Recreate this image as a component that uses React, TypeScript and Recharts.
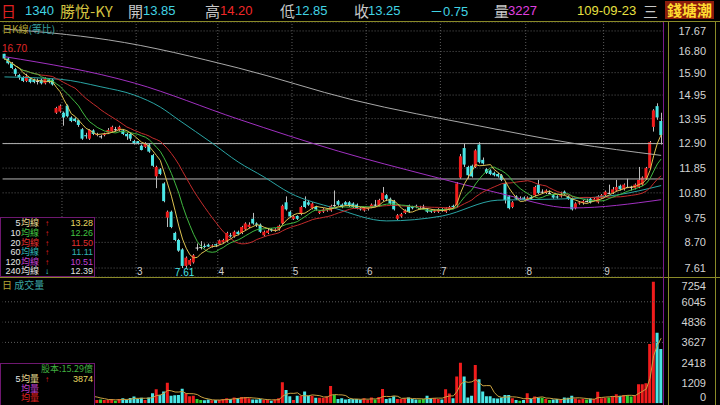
import React from "react";
import {
  Bar,
  Cell,
  ComposedChart,
  CartesianGrid,
  Line,
  ReferenceDot,
  ReferenceLine,
  XAxis,
  YAxis,
} from "recharts";

// open, high, low, close
const candles: [number, number, number, number][] = [
  [16.7, 16.7, 16.45, 16.5], [16.5, 16.55, 16.25, 16.3], [16.3, 16.35, 16.05, 16.1], [16.05, 16.1, 15.75, 15.85],
  [15.8, 15.85, 15.6, 15.7], [15.7, 15.75, 15.5, 15.55], [15.55, 15.85, 15.5, 15.75], [15.65, 15.7, 15.45, 15.5],
  [15.6, 15.65, 15.45, 15.5], [15.55, 15.65, 15.4, 15.55], [15.6, 15.65, 15.4, 15.45], [15.45, 15.7, 15.4, 15.65],
  [15.6, 15.65, 15.45, 15.5], [15.6, 15.65, 15.35, 15.4], [14.2, 14.45, 14.15, 14.4], [14.25, 14.55, 14.2, 14.5],
  [14.2, 14.25, 13.65, 14.0], [14.5, 14.55, 14.0, 14.05], [14.0, 14.05, 13.8, 13.85], [13.95, 14.0, 13.8, 13.85],
  [13.88, 13.9, 13.6, 13.68], [13.5, 13.55, 13.05, 13.1], [13.25, 13.35, 13.1, 13.2], [13.1, 13.5, 13.05, 13.47],
  [13.45, 13.5, 13.25, 13.3], [13.25, 13.35, 13.2, 13.3], [13.2, 13.25, 13.1, 13.2], [13.25, 13.35, 13.2, 13.3],
  [13.35, 13.55, 13.3, 13.47], [13.4, 13.65, 13.35, 13.6], [13.5, 13.6, 13.4, 13.5], [13.45, 13.65, 13.4, 13.6],
  [13.45, 13.5, 13.25, 13.3], [13.3, 13.35, 13.05, 13.2], [13.3, 13.35, 13.0, 13.1], [13.0, 13.05, 12.85, 12.9],
  [13.0, 13.0, 12.85, 12.9], [12.8, 12.85, 12.6, 12.62], [12.75, 12.95, 12.7, 12.9], [12.85, 12.9, 12.5, 12.55],
  [12.4, 12.45, 11.9, 11.95], [11.5, 11.95, 11.0, 11.9], [11.8, 11.85, 11.55, 11.6], [11.2, 11.25, 10.4, 10.45],
  [9.75, 10.05, 9.35, 10.0], [10.0, 10.05, 9.3, 9.35], [9.1, 9.15, 8.75, 8.8], [8.8, 8.85, 8.3, 8.35],
  [8.4, 8.45, 7.61, 7.7], [7.7, 8.1, 7.62, 8.05], [7.75, 8.0, 7.7, 7.95], [7.85, 8.2, 7.8, 8.15],
  [8.48, 8.65, 8.35, 8.48], [8.5, 8.75, 8.4, 8.5], [8.55, 8.65, 8.45, 8.52], [8.6, 8.65, 8.5, 8.52],
  [8.55, 8.62, 8.48, 8.57], [8.62, 8.65, 8.5, 8.57], [8.63, 8.82, 8.6, 8.78], [8.7, 8.85, 8.65, 8.8],
  [8.75, 9.15, 8.7, 9.1], [9.0, 9.1, 8.9, 8.98], [8.95, 9.2, 8.9, 9.15], [9.15, 9.2, 9.0, 9.05],
  [9.1, 9.4, 9.05, 9.35], [9.25, 9.55, 9.2, 9.5], [9.35, 9.55, 9.3, 9.45], [9.7, 9.95, 9.45, 9.5],
  [9.5, 9.55, 9.35, 9.45], [9.45, 9.5, 9.1, 9.15], [9.0, 9.2, 8.95, 9.15], [9.1, 9.3, 9.05, 9.2],
  [9.25, 9.3, 9.15, 9.2], [9.2, 9.3, 9.15, 9.25], [9.25, 9.45, 9.2, 9.4], [9.5, 10.3, 9.45, 10.25],
  [10.4, 10.65, 10.05, 10.1], [10.0, 10.05, 9.75, 9.8], [9.7, 9.85, 9.65, 9.8], [9.82, 9.85, 9.65, 9.7],
  [9.9, 10.25, 9.85, 10.2], [10.45, 10.65, 10.15, 10.2], [10.4, 10.5, 10.25, 10.3], [10.15, 10.4, 10.1, 10.35],
  [10.2, 10.25, 10.05, 10.1], [9.95, 10.05, 9.9, 10.02], [10.0, 10.15, 9.95, 10.1], [10.05, 10.15, 10.0, 10.12],
  [10.05, 10.3, 10.0, 10.25], [10.28, 10.9, 10.2, 10.28], [10.45, 10.5, 10.25, 10.3], [10.3, 10.35, 10.15, 10.2],
  [10.4, 10.45, 10.25, 10.3], [10.4, 10.45, 10.2, 10.25], [10.35, 10.4, 10.15, 10.2], [10.3, 10.35, 10.1, 10.15],
  [10.15, 10.2, 10.05, 10.1], [10.05, 10.2, 10.0, 10.15], [10.12, 10.2, 10.05, 10.15], [10.2, 10.35, 10.15, 10.3],
  [10.3, 10.5, 10.2, 10.3], [10.27, 10.55, 10.2, 10.5], [10.5, 11.05, 10.45, 10.8], [10.7, 10.75, 10.45, 10.55],
  [10.55, 10.6, 10.3, 10.35], [10.45, 10.5, 10.05, 10.1], [9.7, 9.9, 9.65, 9.85], [9.8, 9.95, 9.75, 9.9],
  [9.95, 10.1, 9.9, 10.05], [10.27, 10.3, 9.95, 10.0], [10.2, 10.25, 10.1, 10.15], [10.25, 10.3, 10.15, 10.2],
  [10.15, 10.25, 10.1, 10.15], [10.18, 10.3, 10.1, 10.18], [10.1, 10.15, 9.95, 10.0], [10.05, 10.1, 9.95, 10.0],
  [10.0, 10.1, 9.95, 10.05], [10.0, 10.15, 9.95, 10.1], [10.1, 10.15, 10.0, 10.05], [10.0, 10.2, 9.95, 10.15],
  [10.1, 10.25, 10.05, 10.2], [10.25, 10.3, 10.15, 10.2], [10.27, 11.25, 10.2, 11.2], [11.45, 12.45, 11.4, 12.35],
  [12.7, 12.9, 11.9, 12.0], [11.9, 11.95, 11.4, 11.55], [11.95, 12.0, 11.45, 11.5], [11.9, 12.65, 11.85, 12.6],
  [12.85, 12.95, 12.05, 12.1], [12.2, 12.3, 12.0, 12.05], [11.8, 11.85, 11.6, 11.65], [11.75, 11.8, 11.55, 11.6],
  [11.65, 11.7, 11.5, 11.55], [11.6, 11.65, 11.45, 11.5], [11.55, 11.6, 11.3, 11.35], [11.2, 11.25, 10.35, 10.5],
  [10.65, 10.7, 10.1, 10.15], [10.2, 10.45, 10.15, 10.4], [10.65, 10.7, 10.5, 10.55], [10.58, 10.65, 10.5, 10.58],
  [10.6, 10.65, 10.5, 10.55], [10.55, 10.65, 10.5, 10.6], [10.62, 10.7, 10.5, 10.55], [10.7, 11.1, 10.65, 11.05],
  [11.15, 11.35, 10.75, 10.8], [10.85, 10.95, 10.75, 10.85], [10.8, 10.95, 10.75, 10.9], [10.8, 10.9, 10.75, 10.8],
  [10.7, 10.75, 10.55, 10.6], [10.65, 10.7, 10.55, 10.6], [10.65, 10.85, 10.6, 10.7], [10.85, 10.9, 10.7, 10.75],
  [10.65, 10.7, 10.5, 10.55], [10.55, 10.6, 10.05, 10.1], [10.15, 10.4, 10.1, 10.35], [10.35, 10.45, 10.3, 10.4],
  [10.38, 10.5, 10.3, 10.45], [10.45, 10.55, 10.4, 10.45], [10.55, 10.6, 10.35, 10.4], [10.5, 10.6, 10.45, 10.55],
  [10.4, 10.7, 10.35, 10.65], [10.6, 10.75, 10.55, 10.7], [10.7, 10.9, 10.65, 10.85], [10.8, 11.15, 10.75, 10.8],
  [10.8, 11.05, 10.75, 10.95], [10.9, 11.35, 10.85, 11.05], [11.1, 11.15, 10.9, 10.95], [10.95, 11.2, 10.9, 11.15],
  [11.05, 11.4, 11.0, 11.05], [11.05, 11.1, 10.9, 11.05], [11.0, 11.2, 10.95, 11.15], [11.05, 11.9, 11.0, 11.35],
  [11.15, 11.5, 11.1, 11.45], [11.4, 11.9, 11.35, 11.85], [11.85, 13.0, 11.8, 12.95], [13.6, 14.35, 13.4, 14.3],
  [14.48, 14.6, 13.9, 14.0], [13.85, 14.2, 12.85, 13.25],
];

const volumes = [
  420, 380, 350, 330, 300, 280, 260, 240, 230, 210, 220, 260, 240, 300, 880, 760, 650, 600, 420, 380,
  400, 520, 380, 450, 300, 200, 230, 200, 200, 250, 150, 250, 300, 200, 320, 400, 250, 330, 200, 350,
  600, 830, 500, 700, 1230, 450, 480, 500, 870, 600, 420, 450, 250, 200, 180, 220, 180, 200, 200, 250,
  300, 250, 350, 300, 380, 380, 300, 230, 220, 250, 200, 200, 150, 230, 300, 1250, 790, 420, 200, 450,
  450, 700, 450, 450, 330, 330, 330, 420, 1030, 500, 250, 300, 220, 250, 250, 250, 220, 300, 200, 350,
  220, 380, 850, 250, 300, 420, 250, 250, 300, 350, 250, 230, 220, 250, 450, 300, 300, 250, 230, 830,
  590, 300, 1590, 2420, 1590, 340, 450, 2280, 1430, 700, 420, 420, 300, 280, 350, 500, 500, 300, 200, 150,
  200, 600, 250, 400, 330, 330, 250, 200, 220, 250, 200, 350, 330, 450, 280, 220, 250, 220, 280, 250,
  690, 300, 330, 350, 400, 540, 450, 500, 480, 400, 450, 1130, 1130, 1190, 3530, 7254, 4200, 3227,
];

// long averages, read at a few days (day index, price)
const ma60Pts: [number, number][] = [
  [0, 15.72], [15, 15.62], [26, 15.3], [35, 14.95], [42, 14.44], [47, 13.89], [56, 12.91], [63, 12.11],
  [70, 11.47], [77, 10.79], [89, 10.15], [103, 9.61], [118, 9.82], [133, 10.49], [150, 10.54], [165, 10.71], [177, 11.11],
];
const ma120Pts: [number, number][] = [
  [0, 16.58], [35, 15.46], [63, 13.93], [90, 12.57], [115, 11.51], [133, 10.8], [153, 10.16], [177, 10.51],
];
const ma240Pts: [number, number][] = [
  [0, 17.75], [13, 17.58], [28, 17.29], [63, 16.1], [94, 14.74], [128, 13.64], [153, 12.91], [177, 12.39],
];

const priceTicks = [7.61, 8.7, 9.75, 10.8, 11.85, 12.9, 13.95, 14.95, 15.9, 16.8, 17.67];
const volTicks = [0, 1209, 2418, 3627, 4836, 6045, 7254];
const volGrid = [3627, 4836, 6045];
const monthLines: [number, string][] = [
  [15.5, "2"], [35.5, "3"], [57.5, "4"], [77.5, "5"], [97.5, "6"], [117.5, "7"], [140.5, "8"], [161.5, "9"],
];
const levels = [12.89, 11.39];

const RED = "#f01c1c";
const CYAN = "#4ae6e6";
const FLAT = "#e0e0e0";
const GRID = "#5c5c5c";
const OLIVE = "#8a8a28";
const CJK = "'Noto Sans CJK TC', 'Noto Sans CJK SC', sans-serif";
const NUM = "'Liberation Sans', Arial, sans-serif";

const avg = (arr: number[], i: number, n: number) => {
  const s = Math.max(0, i - n + 1);
  let t = 0;
  for (let k = s; k <= i; k++) t += arr[k];
  return t / (i - s + 1);
};

const closes = candles.map((d) => d[3]);
const lookup = (pts: [number, number][], i: number) => {
  const hit = pts.find((p) => p[0] === i);
  return hit ? hit[1] : null;
};

const rows = candles.map(([o, h, l, c], i) => ({
  i,
  o,
  h,
  l,
  c,
  range: [l, h],
  ma5: avg(closes, i, 5),
  ma10: avg(closes, i, 10),
  ma20: avg(closes, i, 20),
  ma60: lookup(ma60Pts, i),
  ma120: lookup(ma120Pts, i),
  ma240: lookup(ma240Pts, i),
  v: volumes[i],
  vma5: avg(volumes, i, 5),
}));

const colorOf = (o: number, c: number) => (c > o ? RED : c < o ? CYAN : FLAT);

const Candle = (props: any) => {
  const { x, y, width, height, payload } = props;
  const { o, h, l, c } = payload;
  const k = h > l ? height / (h - l) : 0;
  const py = (v: number) => y + (h - v) * k;
  const cx = Math.round(x + width / 2) + 0.5;
  const top = py(Math.max(o, c));
  const bot = py(Math.min(o, c));
  return (
    <g>
      <line x1={cx} x2={cx} y1={y} y2={y + height} stroke="#bdbdbd" strokeWidth={1} />
      <rect x={x} y={top} width={width} height={Math.max(1, bot - top)} fill={colorOf(o, c)} />
    </g>
  );
};

const PriceTick = (props: any) => {
  const { y, payload } = props;
  return (
    <text x={706} y={y + 4} textAnchor="end" fill="#d4d4d4" fontSize={11} fontFamily={NUM}>
      {payload.value.toFixed(2)}
    </text>
  );
};

const VolTick = (props: any) => {
  const { y, payload } = props;
  const shift = payload.value === 7254 ? 8 : payload.value === 0 ? -2 : 4;
  return (
    <text x={706} y={y + shift} textAnchor="end" fill="#d4d4d4" fontSize={11} fontFamily={NUM}>
      {payload.value}
    </text>
  );
};

const MonthLabel = (props: any) => {
  const { viewBox, text } = props;
  return (
    <text x={viewBox.x + 3.5} y={viewBox.y + viewBox.height - 2} textAnchor="middle" fill="#d0d0d0" fontSize={10} fontFamily={NUM}>
      {text}
    </text>
  );
};

const HighLabel = (props: any) => (
  <text x={props.viewBox.x - 1.5} y={props.viewBox.y - 1} fill="#e02828" fontSize={10} fontFamily={NUM}>
    16.70
  </text>
);

const LowLabel = (props: any) => (
  <text x={props.viewBox.x + 3} y={props.viewBox.y + 9} textAnchor="middle" fill={CYAN} fontSize={10} fontFamily={NUM}>
    7.61
  </text>
);

const T = ({ x, y, c, s = 13, f = NUM, lh = 16, children }: any) => (
  <span
    style={{
      position: "absolute",
      left: x,
      top: y,
      color: c,
      fontSize: s,
      fontFamily: f,
      lineHeight: `${lh}px`,
      whiteSpace: "nowrap",
    }}
  >
    {children}
  </span>
);

const maRows = [
  { n: "5", col: "#e8dc90", val: "13.28", vcol: "#e8d860", up: true },
  { n: "10", col: "#40c440", val: "12.26", vcol: "#40c440", up: true },
  { n: "20", col: "#e03030", val: "11.50", vcol: "#e03030", up: true },
  { n: "60", col: "#30b4b4", val: "11.11", vcol: "#30b4b4", up: true },
  { n: "120", col: "#c040d0", val: "10.51", vcol: "#c040d0", up: true },
  { n: "240", col: "#e0e0e0", val: "12.39", vcol: "#e0e0e0", up: false },
];

const volRows = [
  { n: "5", col: "#e8dc90", val: "3874" },
  { n: "", col: "#c040d0", val: "" },
  { n: "", col: "#e02020", val: "" },
];

const base = (k: number) => 9.3 + k * 9.6;

export default function App() {
  return (
    <div
      style={{
        position: "fixed",
        left: 0,
        top: 0,
        width: 720,
        height: 405,
        background: "#000",
        overflow: "hidden",
      }}
    >
      {/* header */}
      <T x={1} y={3} c="#e02020" s={15} f={CJK}>日</T>
      <T x={25} y={3} c="#40d4e4">1340</T>
      <T x={60} y={3} c="#d4c440" s={15} f={CJK}>勝悅-KY</T>
      <T x={128} y={3} c="#c8c8c8" s={15} f={CJK}>開</T>
      <T x={143} y={3} c="#40d4e4">13.85</T>
      <T x={205} y={3} c="#c8c8c8" s={15} f={CJK}>高</T>
      <T x={220} y={3} c="#f02828">14.20</T>
      <T x={280} y={3} c="#c8c8c8" s={15} f={CJK}>低</T>
      <T x={295} y={3} c="#40d4e4">12.85</T>
      <T x={354} y={3} c="#c8c8c8" s={15} f={CJK}>收</T>
      <T x={368} y={3} c="#40d4e4">13.25</T>
      <T x={430} y={3} c="#40d4e4"><span style={{ fontFamily: CJK }}>－</span>0.75</T>
      <T x={494} y={3} c="#c8c8c8" s={15} f={CJK}>量</T>
      <T x={508} y={3} c="#e040e0">3227</T>
      <T x={577} y={3} c="#e8e040">109-09-23</T>
      <T x={643} y={3} c="#c8c8c8" s={15} f={CJK}>三</T>
      <div
        style={{
          position: "absolute",
          left: 665,
          top: 1,
          width: 49,
          height: 18,
          background: "#8c1c0c",
          color: "#ffdc30",
          fontFamily: CJK,
          fontSize: 15,
          fontWeight: 700,
          lineHeight: "18px",
          textAlign: "center",
        }}
      >
        錢塘潮
      </div>

      {/* price panel */}
      <div style={{ position: "absolute", left: 0, top: 0 }}>
        <ComposedChart width={720} height={277} data={rows} margin={{ top: 22, right: 0, bottom: 0, left: 2.6 }}>
          <CartesianGrid vertical={false} stroke={GRID} strokeDasharray="1 2" />
          <XAxis type="number" dataKey="i" domain={[-0.5, 177.5]} hide />
          <YAxis
            orientation="right"
            width={57}
            type="number"
            domain={[7.23, 18.05]}
            ticks={priceTicks}
            interval={0}
            allowDataOverflow
            axisLine={false}
            tickLine={false}
            tick={<PriceTick />}
          />
          {monthLines.map(([x, t]) => (
            <ReferenceLine key={t} x={x} stroke={GRID} strokeDasharray="1 2" label={<MonthLabel text={t} />} />
          ))}
          {levels.map((y) => (
            <ReferenceLine key={y} y={y} stroke="#b4b4b4" />
          ))}
          <Line dataKey="ma240" stroke="#a8a8a8" dot={false} connectNulls type="monotone" isAnimationActive={false} />
          <Line dataKey="ma120" stroke="#a030c0" dot={false} connectNulls type="monotone" isAnimationActive={false} />
          <Line dataKey="ma60" stroke="#2aa4a4" dot={false} connectNulls type="monotone" isAnimationActive={false} />
          <Bar dataKey="range" barSize={3} shape={<Candle />} isAnimationActive={false} />
          <Line dataKey="ma20" stroke="#c42c2c" dot={false} isAnimationActive={false} />
          <Line dataKey="ma10" stroke="#40b840" dot={false} isAnimationActive={false} />
          <Line dataKey="ma5" stroke="#dcc050" dot={false} isAnimationActive={false} />
          <ReferenceDot x={0} y={16.7} r={1} fill="none" stroke="none" label={<HighLabel />} />
          <ReferenceDot x={48} y={7.61} r={1} fill="none" stroke="none" label={<LowLabel />} />
        </ComposedChart>
      </div>

      {/* volume panel */}
      <div style={{ position: "absolute", left: 0, top: 277 }}>
        <ComposedChart width={720} height={128} data={rows} margin={{ top: 4.5, right: 0, bottom: 1.7, left: 2.6 }}>
          <XAxis type="number" dataKey="i" domain={[-0.5, 177.5]} hide />
          <YAxis
            orientation="right"
            width={57}
            type="number"
            domain={[0, 7254]}
            ticks={volTicks}
            interval={0}
            allowDataOverflow
            axisLine={false}
            tickLine={false}
            tick={<VolTick />}
          />
          {volGrid.map((y) => (
            <ReferenceLine key={y} y={y} stroke={GRID} strokeDasharray="1 2" />
          ))}
          <Bar dataKey="v" barSize={3} isAnimationActive={false}>
            {rows.map((r) => (
              <Cell key={r.i} fill={r.c > r.o ? RED : r.c < r.o ? CYAN : "#30d030"} />
            ))}
          </Bar>
          <Line dataKey="vma5" stroke="#c8a040" dot={false} isAnimationActive={false} />
        </ComposedChart>
      </div>

      {/* frame lines */}
      <div style={{ position: "absolute", left: 0, top: 21, width: 720, height: 1, background: OLIVE }} />
      <div style={{ position: "absolute", left: 0, top: 277, width: 720, height: 1, background: OLIVE }} />
      <div style={{ position: "absolute", left: 668, top: 21, width: 1, height: 384, background: OLIVE }} />
      <div style={{ position: "absolute", left: 715, top: 21, width: 1, height: 384, background: OLIVE }} />
      <div style={{ position: "absolute", left: 663, top: 22, width: 1, height: 383, background: "#7a1a8a" }} />

      {/* panel titles */}
      <T x={2} y={23} s={10} lh={11} c="#b4a434" f={CJK}>日K線<span style={{ color: "#3aa4a4" }}>(等比)</span></T>
      <T x={2} y={279} s={10} lh={11} c="#b4a434" f={CJK}>日 <span style={{ color: "#3aa4a4" }}>成交量</span></T>

      {/* MA legend */}
      <svg width={95} height={60} style={{ position: "absolute", left: 0, top: 217 }}>
        <rect x={0.5} y={0.5} width={94} height={59} fill="#000" stroke="#6e1870" />
        <text fontSize={9} fontFamily={NUM} textAnchor="end">
          {maRows.map((r, k) => (
            <tspan key={r.n} x={20.5} y={base(k)} fill="#e8e8e8">{r.n}</tspan>
          ))}
        </text>
        <text fontSize={9} fontFamily={CJK}>
          {maRows.map((r, k) => (
            <tspan key={r.n} x={21} y={base(k)} fill={r.col}>均線</tspan>
          ))}
        </text>
        <text fontSize={8} fontFamily={NUM}>
          {maRows.map((r, k) => (
            <tspan key={r.n} x={45} y={base(k)} fill={r.up ? "#e02020" : CYAN}>{r.up ? "↑" : "↓"}</tspan>
          ))}
        </text>
        <text fontSize={9} fontFamily={NUM} textAnchor="end">
          {maRows.map((r, k) => (
            <tspan key={r.n} x={93} y={base(k)} fill={r.vcol}>{r.val}</tspan>
          ))}
        </text>
      </svg>

      {/* volume legend */}
      <svg width={95} height={42} style={{ position: "absolute", left: 0, top: 363 }}>
        <rect x={0.5} y={0.5} width={94} height={42} fill="#000" stroke="#6e1870" />
        <text x={93} y={base(0)} fontSize={9} fontFamily={CJK} textAnchor="end" fill="#40b040">
          股本:15.29億
        </text>
        <text x={20.5} y={base(1)} fontSize={9} fontFamily={NUM} textAnchor="end" fill="#e8e8e8">5</text>
        <text fontSize={9} fontFamily={CJK}>
          {volRows.map((r, k) => (
            <tspan key={k} x={21} y={base(k + 1)} fill={r.col}>均量</tspan>
          ))}
        </text>
        <text x={45} y={base(1)} fontSize={8} fontFamily={NUM} fill="#e02020">↑</text>
        <text x={93} y={base(1)} fontSize={9} fontFamily={NUM} textAnchor="end" fill="#e8d860">3874</text>
      </svg>
    </div>
  );
}
